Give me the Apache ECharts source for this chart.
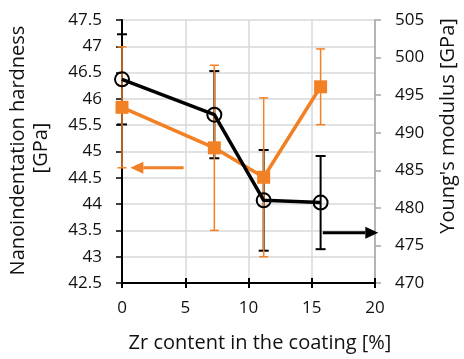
<!DOCTYPE html>
<html><head><meta charset="utf-8">
<script src="https://cdn.jsdelivr.net/npm/echarts@6/dist/echarts.min.js"></script>
<style>html,body{margin:0;padding:0;background:#fff}#c{width:464px;height:359px}</style>
</head><body><div id="c"></div>
<script>
// Data
const xZr = [0, 7.3, 11.2, 15.7];
const hardness = [45.84, 45.07, 44.51, 46.23];
const hardnessErr = [1.15, 1.57, 1.51, 0.72];
const modulus = [497.1, 492.4, 481.0, 480.7];
const modulusErr = [6.0, 5.8, 6.7, 6.2];
const xTicks = ['0', '5', '10', '15', '20'];
const hardnessArrow = [[4.87, 44.69], [0.66, 44.69]];
const modulusArrow = [[15.87, 476.7], [20.26, 476.7]];

const ORANGE = '#F28024';
const FONT = '"Open Sans", sans-serif';
const TXT = '#111';
const chart = echarts.init(document.getElementById('c'), null, {renderer: 'canvas'});

function errRender(color, lw, half) {
  return function (params, api) {
    const x = api.value(0), lo = api.value(1), hi = api.value(2);
    const a = api.coord([x, hi]), b = api.coord([x, lo]);
    const st = {stroke: color, lineWidth: lw};
    return {type: 'group', children: [
      {type: 'line', shape: {x1: a[0], y1: a[1], x2: b[0], y2: b[1]}, style: st},
      {type: 'line', shape: {x1: a[0] - half, y1: a[1], x2: a[0] + half, y2: a[1]}, style: st},
      {type: 'line', shape: {x1: b[0] - half, y1: b[1], x2: b[0] + half, y2: b[1]}, style: st}
    ]};
  };
}
function arrowRender(pts, color) {
  return function (params, api) {
    if (params.dataIndex !== 0) return null;
    const p1 = api.coord(pts[0]);
    const p2 = api.coord(pts[1]);
    const dir = Math.sign(p2[0] - p1[0]);
    const hl = 13, hw = 6;
    const bx = p2[0] - dir * hl;
    return {type: 'group', children: [
      {type: 'line', shape: {x1: p1[0], y1: p1[1], x2: bx, y2: p2[1]}, style: {stroke: color, lineWidth: 3}},
      {type: 'polygon', shape: {points: [[p2[0], p2[1]], [bx, p2[1] - hw], [bx, p2[1] + hw]]}, style: {fill: color}}
    ]};
  };
}

const gridColor = '#d9d9d9';
const labelStyle = {fontFamily: FONT, fontSize: 17, color: TXT};

chart.setOption({
  animation: false,
  grid: {left: 122, right: 89, top: 20, bottom: 76},
  xAxis: [{
    type: 'value', min: 0, max: 20, interval: 5,
    axisLine: {show: true, onZero: false, lineStyle: {color: '#000', width: 2}},
    axisTick: {show: true, length: 5, lineStyle: {color: '#000', width: 2}},
    axisLabel: Object.assign({margin: 17, formatter: v => xTicks[Math.round(v / 5)]}, labelStyle),
    splitLine: {show: true, lineStyle: {color: gridColor, width: 1.5}}
  }, {
    type: 'value', min: 0, max: 20, interval: 5, position: 'bottom',
    axisLine: {show: false}, axisLabel: {show: false}, splitLine: {show: false},
    axisTick: {show: true, inside: true, length: 5, lineStyle: {color: '#000', width: 2}}
  }],
  yAxis: [{
    type: 'value', min: 42.5, max: 47.5, interval: 0.5, position: 'left',
    axisLine: {show: true, onZero: false, lineStyle: {color: '#000', width: 2}},
    axisTick: {show: true, length: 6, lineStyle: {color: '#000', width: 1.5}},
    axisLabel: Object.assign({margin: 20}, labelStyle),
    splitLine: {show: true, lineStyle: {color: gridColor, width: 1.5}}
  }, {
    type: 'value', min: 470, max: 505, interval: 5, position: 'right',
    axisLine: {show: true, onZero: false, lineStyle: {color: '#a6a6a6', width: 1.5}},
    axisTick: {show: true, length: 6, lineStyle: {color: '#a6a6a6', width: 1.5}},
    axisLabel: Object.assign({margin: 20}, labelStyle),
    splitLine: {show: false}
  }],
  graphic: [
    {type: 'text', x: 18.5, y: 150.5, rotation: Math.PI / 2, style: {text: 'Nanoindentation hardness', font: '20px ' + FONT, fill: TXT, align: 'center', verticalAlign: 'middle'}},
    {type: 'text', x: 41, y: 148, rotation: Math.PI / 2, style: {text: '[GPa]', font: '20px ' + FONT, fill: TXT, align: 'center', verticalAlign: 'middle'}},
    {type: 'text', x: 448.5, y: 126, rotation: Math.PI / 2, style: {text: "Young's modulus [GPa]", font: '20px ' + FONT, fill: TXT, align: 'center', verticalAlign: 'middle'}},
    {type: 'text', x: 260, y: 343, style: {text: 'Zr content in the coating [%]', font: '20px ' + FONT, fill: TXT, align: 'center', verticalAlign: 'middle'}}
  ],
  series: [
    {name: 'modErr', type: 'custom', yAxisIndex: 1, z: 2, clip: false,
     renderItem: errRender('#000', 2, 5), encode: {x: 0, y: [1, 2]},
     data: xZr.map((x, i) => [x, modulus[i] - modulusErr[i], modulus[i] + modulusErr[i]])},
    {name: 'hardErr', type: 'custom', yAxisIndex: 0, z: 3, clip: false,
     renderItem: errRender(ORANGE, 1.5, 4.5), encode: {x: 0, y: [1, 2]},
     data: xZr.map((x, i) => [x, hardness[i] - hardnessErr[i], hardness[i] + hardnessErr[i]])},
    {name: 'Hardness', type: 'line', yAxisIndex: 0, z: 4, clip: false,
     data: xZr.map((x, i) => [x, hardness[i]]),
     lineStyle: {color: ORANGE, width: 3.5}, itemStyle: {color: ORANGE},
     symbol: 'rect', symbolSize: 13, showAllSymbol: true},
    {name: 'Modulus', type: 'line', yAxisIndex: 1, z: 5, clip: false,
     data: xZr.map((x, i) => [x, modulus[i]]),
     lineStyle: {color: '#000', width: 3.5},
     itemStyle: {color: 'rgba(0,0,0,0)', borderColor: '#000', borderWidth: 2},
     symbol: 'circle', symbolSize: 14, showAllSymbol: true},
    {name: 'hArrow', type: 'custom', yAxisIndex: 0, z: 6, clip: false,
     renderItem: arrowRender(hardnessArrow, ORANGE), data: [hardnessArrow[0]]},
    {name: 'mArrow', type: 'custom', yAxisIndex: 1, z: 6, clip: false,
     renderItem: arrowRender(modulusArrow, '#000'), data: [modulusArrow[0]]}
  ]
});
</script></body></html>
